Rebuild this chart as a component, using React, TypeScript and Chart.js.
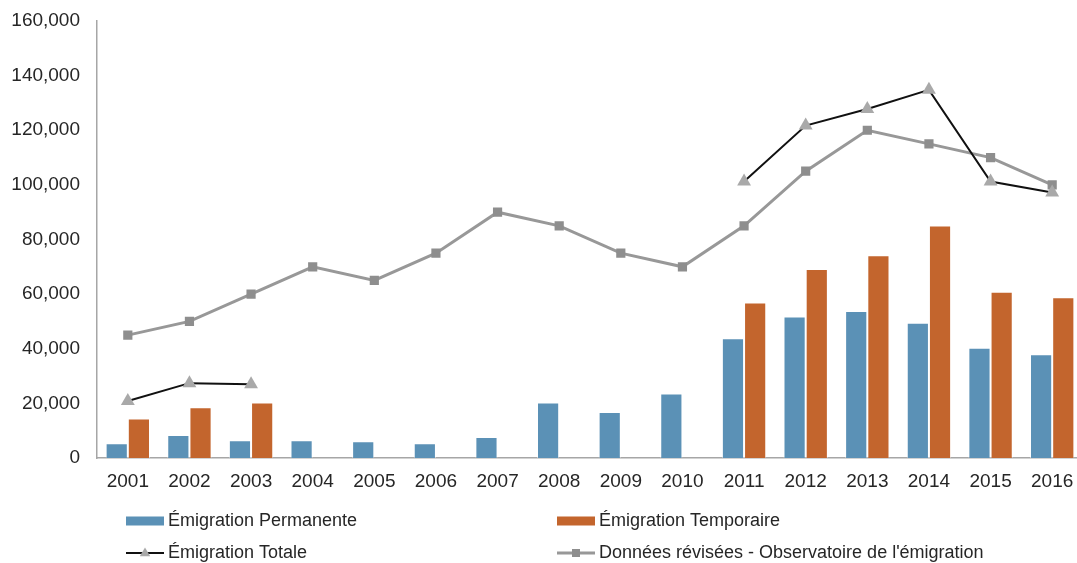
import React, { useEffect, useRef } from "react";
import { Chart, registerables } from "chart.js";

Chart.register(...registerables);

const years = ["2001", "2002", "2003", "2004", "2005", "2006", "2007", "2008", "2009", "2010", "2011", "2012", "2013", "2014", "2015", "2016"];
const permanente = [5400, 8400, 6500, 6500, 6100, 5400, 7700, 20300, 16800, 23600, 43800, 51800, 53800, 49500, 40400, 38000];
const temporaire = [14500, 18600, 20300, null, null, null, null, null, null, null, 56900, 69200, 74200, 85100, 60900, 58900];
const totale = [20900, 27400, 27000, null, null, null, null, null, null, null, 101200, 121700, 127800, 134800, 101200, 97200];
const revisees = [45000, 50000, 60000, 70000, 65000, 75000, 90000, 85000, 75000, 70000, 85000, 105000, 120000, 115000, 110000, 100000];
const yTicks = [0, 20000, 40000, 60000, 80000, 100000, 120000, 140000, 160000];

const labelPerm = "Émigration Permanente";
const labelTemp = "Émigration Temporaire";
const labelTot = "Émigration Totale";
const labelRev = "Données révisées - Observatoire de l'émigration";

const BLUE = "#5B91B6";
const ORANGE = "#C3652D";
const TEXT = "#262626";
const AXIS = "#A6A6A6";

const legendPlugin = {
  id: "customLegend",
  afterDraw(chart: any) {
    const ctx = chart.ctx;
    const ds = chart.data.datasets;
    const colX = [126, 557];
    const rowY = [521, 553];
    const slots = [
      { d: ds[2], c: 0, r: 0 },
      { d: ds[3], c: 1, r: 0 },
      { d: ds[0], c: 0, r: 1 },
      { d: ds[1], c: 1, r: 1 },
    ];
    ctx.save();
    ctx.font = '18px "Liberation Sans", Arial, sans-serif';
    ctx.textBaseline = "middle";
    ctx.textAlign = "left";
    for (const s of slots) {
      const x = colX[s.c];
      const y = rowY[s.r];
      const w = 38;
      if (s.d.type === "bar") {
        ctx.fillStyle = s.d.backgroundColor;
        ctx.fillRect(x, y - 4.5, w, 9);
      } else {
        ctx.strokeStyle = s.d.borderColor;
        ctx.lineWidth = s.d.borderWidth;
        ctx.beginPath();
        ctx.moveTo(x, y);
        ctx.lineTo(x + w, y);
        ctx.stroke();
        ctx.fillStyle = s.d.pointBackgroundColor;
        const cx = x + w / 2;
        if (s.d.pointStyle === "triangle") {
          const r = 5.5;
          ctx.beginPath();
          ctx.moveTo(cx, y - r);
          ctx.lineTo(cx + r * 0.95, y + r * 0.6);
          ctx.lineTo(cx - r * 0.95, y + r * 0.6);
          ctx.closePath();
          ctx.fill();
        } else {
          ctx.fillRect(cx - 4, y - 4, 8, 8);
        }
      }
      ctx.fillStyle = TEXT;
      ctx.fillText(s.d.label, x + w + 4, y);
    }
    ctx.restore();
  },
};

export default function App() {
  const ref = useRef<HTMLCanvasElement>(null);
  useEffect(() => {
    if (!ref.current) return;
    const chart = new Chart(ref.current, {
      type: "bar",
      data: {
        labels: years,
        datasets: [
          {
            type: "line",
            label: labelTot,
            data: totale,
            borderColor: "#111111",
            borderWidth: 2,
            pointStyle: "triangle",
            pointRadius: 8,
            pointBackgroundColor: "#A9A9A9",
            pointBorderColor: "#A9A9A9",
            pointBorderWidth: 0,
            spanGaps: false,
            order: 0,
          } as any,
          {
            type: "line",
            label: labelRev,
            data: revisees,
            borderColor: "#989898",
            borderWidth: 3,
            pointStyle: "rect",
            pointRadius: 6.5,
            pointBackgroundColor: "#8E8E8E",
            pointBorderColor: "#8E8E8E",
            pointBorderWidth: 0,
            order: 0,
          } as any,
          {
            type: "bar",
            label: labelPerm,
            data: permanente,
            backgroundColor: BLUE,
            borderColor: "rgba(255,255,255,0.45)",
            borderWidth: 1,
            categoryPercentage: 0.72,
            barPercentage: 1,
            order: 1,
          } as any,
          {
            type: "bar",
            label: labelTemp,
            data: temporaire,
            backgroundColor: ORANGE,
            borderColor: "rgba(255,255,255,0.45)",
            borderWidth: 1,
            categoryPercentage: 0.72,
            barPercentage: 1,
            order: 1,
          } as any,
        ],
      },
      options: {
        animation: false,
        responsive: false,
        maintainAspectRatio: false,
        layout: { autoPadding: false, padding: { left: 8, right: 0, top: 21, bottom: 66 } },
        plugins: {
          legend: { display: false },
          tooltip: { enabled: false },
        },
        scales: {
          x: {
            grid: { display: false, drawTicks: false },
            border: { display: true, color: AXIS, width: 1.5 },
            ticks: {
              color: TEXT,
              font: { family: '"Liberation Sans", Arial, sans-serif', size: 19 },
              padding: 12,
              maxRotation: 0,
            },
            afterFit: (scale: any) => {
              scale.height = 39;
              scale.paddingLeft = 0;
              scale.paddingRight = 0;
            },
          },
          y: {
            min: 0,
            max: 160000,
            afterBuildTicks: (scale: any) => {
              scale.ticks = yTicks.map((v) => ({ value: v }));
            },
            grid: { display: false, drawTicks: false },
            border: { display: true, color: AXIS, width: 1.5 },
            ticks: {
              color: TEXT,
              font: { family: '"Liberation Sans", Arial, sans-serif', size: 19 },
              padding: 17,
              callback: (v: any) => Number(v).toLocaleString("en-US"),
            },
            afterFit: (scale: any) => {
              scale.width = 89;
              scale.paddingTop = 0;
              scale.paddingBottom = 0;
            },
          },
        },
      },
      plugins: [legendPlugin],
    });
    return () => chart.destroy();
  }, []);
  return (
    <div style={{ position: "fixed", left: 0, top: 0, width: 1077, height: 563, overflow: "hidden", background: "#fff" }}>
      <canvas ref={ref} width={1083} height={563} style={{ display: "block" }} />
    </div>
  );
}
